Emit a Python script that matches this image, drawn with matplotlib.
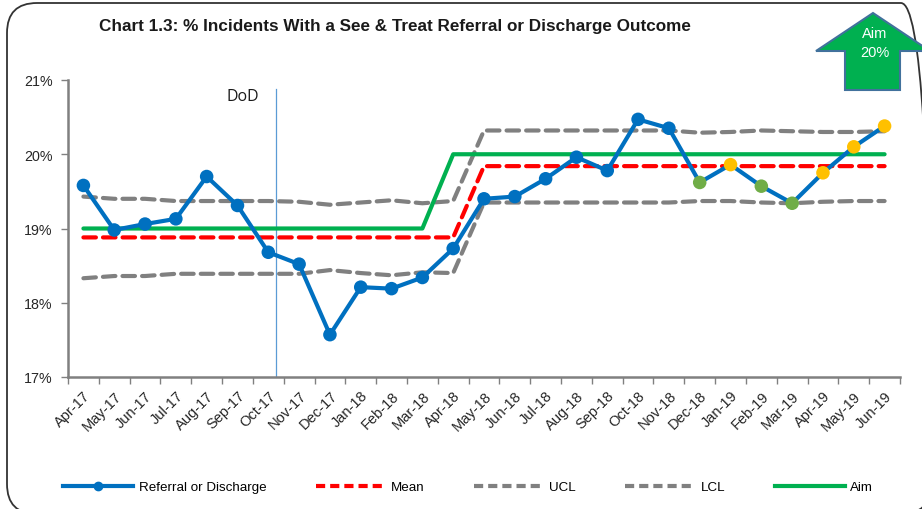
import matplotlib
matplotlib.use("Agg")
import matplotlib.pyplot as plt
from matplotlib.lines import Line2D
from matplotlib.patches import FancyBboxPatch, Polygon
from matplotlib.transforms import IdentityTransform

plt.rcParams['font.family'] = ['Liberation Sans', 'DejaVu Sans']

months = ["Apr-17", "May-17", "Jun-17", "Jul-17", "Aug-17", "Sep-17", "Oct-17",
          "Nov-17", "Dec-17", "Jan-18", "Feb-18", "Mar-18", "Apr-18", "May-18",
          "Jun-18", "Jul-18", "Aug-18", "Sep-18", "Oct-18", "Nov-18", "Dec-18",
          "Jan-19", "Feb-19", "Mar-19", "Apr-19", "May-19", "Jun-19"]

referral = [19.58, 18.98, 19.06, 19.13, 19.70, 19.31, 18.68, 18.52, 17.57,
            18.21, 18.19, 18.34, 18.73, 19.40, 19.43, 19.67, 19.96, 19.78,
            20.47, 20.35, 19.62, 19.86, 19.57, 19.34, 19.75, 20.10, 20.38]

mean = [18.88] * 13 + [19.84] * 14

ucl = [19.43, 19.40, 19.40, 19.37, 19.37, 19.37, 19.37, 19.36, 19.32, 19.35,
       19.38, 19.34, 19.37, 20.32, 20.32, 20.32, 20.32, 20.32, 20.32, 20.32,
       20.29, 20.30, 20.32, 20.31, 20.30, 20.30, 20.31]

lcl = [18.33, 18.36, 18.36, 18.39, 18.39, 18.39, 18.39, 18.39, 18.44, 18.40,
       18.37, 18.41, 18.40, 19.35, 19.35, 19.35, 19.35, 19.35, 19.35, 19.35,
       19.37, 19.37, 19.35, 19.34, 19.36, 19.37, 19.37]

aim = [19.0] * 12 + [20.0] * 15

# marker colour per point (style)
BLUE, GREEN_PT, YELLOW = "#0070C0", "#70AD47", "#FFC000"
point_colors = [BLUE] * 20 + [GREEN_PT, YELLOW, GREEN_PT, GREEN_PT, YELLOW, YELLOW, YELLOW]

yticks = [17, 18, 19, 20, 21]
ytick_labels = ["17%", "18%", "19%", "20%", "21%"]

x = list(range(len(months)))

W, H = 922, 510
fig = plt.figure(figsize=(W/100, H/100), dpi=100)
ax = fig.add_axes([68/W, 1-378/H, (900-68)/W, (378-81)/H])

GRAY = "#808080"
RED = "#FF0000"
GREEN = "#00B050"

ax.plot(x, ucl, color=GRAY, lw=3, dashes=(3, 1.7), dash_capstyle='round', zorder=2)
ax.plot(x, lcl, color=GRAY, lw=3, dashes=(3, 1.7), dash_capstyle='round', zorder=2)
ax.plot(x, mean, color=RED, lw=3, dashes=(3, 1.7), dash_capstyle='round', zorder=3)
ax.plot(x, aim, color=GREEN, lw=3, zorder=3, solid_capstyle='round')
ax.plot(x, referral, color=BLUE, lw=3, zorder=4, solid_joinstyle='round')
ax.scatter(x, referral, s=95, c=point_colors, zorder=5, linewidths=0)

# DoD marker
dod_x = 6.26
ax.axvline(dod_x, ymin=0, ymax=(378-90)/297, color="#5B9BD5", lw=0.9, zorder=1)
ax.text(5.18, 20.785, "DoD", ha='center', va='center', fontsize=11.5,
        family=['Open Sans', 'DejaVu Sans'], color='#1a1a1a')

ax.set_xlim(-0.5, len(months) - 0.5)
ax.set_ylim(17, 21)
ax.set_yticks(yticks)
ax.set_yticklabels(ytick_labels, fontsize=10.3, color='#262626')
ax.set_xticks(x)
ax.set_xticklabels(months, rotation=45, ha='right', rotation_mode='anchor',
                   fontsize=10.5, color='#262626')
ax.set_xticks([i - 0.5 for i in range(len(months) + 1)], minor=True)
ax.tick_params(axis='x', which='major', length=0, pad=8)
ax.tick_params(axis='x', which='minor', length=5, color=GRAY, width=1)
ax.tick_params(axis='y', length=5, color=GRAY, width=1, pad=6)

for s in ['top', 'right']:
    ax.spines[s].set_visible(False)
for s in ['left', 'bottom']:
    ax.spines[s].set_color(GRAY)
    ax.spines[s].set_linewidth(1.8)

# Title
fig.text(394.5/W, 1-27/H, "Chart 1.3: % Incidents With a See & Treat Referral or Discharge Outcome",
         ha='center', va='center', fontsize=12.3, fontweight='bold', color='#1a1a1a')

# Legend
handles = [
    Line2D([], [], color=BLUE, lw=3, marker='o', markersize=6),
    Line2D([], [], color=RED, lw=3, dashes=(2.2, 1.2)),
    Line2D([], [], color=GRAY, lw=3, dashes=(2.2, 1.2)),
    Line2D([], [], color=GRAY, lw=3, dashes=(2.2, 1.2)),
    Line2D([], [], color=GREEN, lw=3),
]
labels = ["Referral or Discharge", "Mean", "UCL", "LCL", "Aim"]
fig.legend(handles, labels, loc='center', bbox_to_anchor=(468/W, 1-488/H), ncol=5,
           frameon=False, fontsize=9.6, handlelength=5.25, handletextpad=0.4,
           columnspacing=3.7, numpoints=1)

# Rounded frame in pixel coordinates (right and bottom edges run off the image)
frame = FancyBboxPatch((7, H - 515), 931 - 7, 515 - 4,
                       boxstyle="round,pad=0,rounding_size=30",
                       transform=IdentityTransform(), fill=False,
                       edgecolor='#333333', lw=1.3)
fig.patches.append(frame)

# Aim arrow
arrow_pts = [(873, 14), (930, 52), (900, 52), (900, 91), (845, 91), (845, 52), (816, 52)]
arrow = Polygon([(px/W, 1-py/H) for px, py in arrow_pts], closed=True,
                transform=fig.transFigure, facecolor=GREEN, edgecolor="#41719C", lw=1.5)
fig.patches.append(arrow)
fig.text(875/W, 1-34/H, "Aim", ha='center', va='center', color='white', fontsize=10.5)
fig.text(875/W, 1-53/H, "20%", ha='center', va='center', color='white', fontsize=10.5)

fig.savefig("out.png", dpi=100)
